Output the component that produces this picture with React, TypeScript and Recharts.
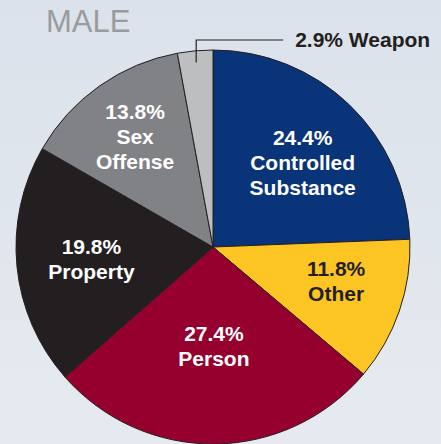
import { PieChart, Pie, Cell } from 'recharts';

const categories = ['Controlled Substance', 'Other', 'Person', 'Property', 'Sex Offense', 'Weapon'];
const shares = [24.4, 11.8, 27.4, 19.8, 13.8, 2.9];
const sliceColors = ['#0a347a', '#fdc524', '#96002e', '#231f20', '#808285', '#bcbec0'];
const labelColors = ['#ffffff', '#231f20', '#ffffff', '#ffffff', '#ffffff', '#231f20'];
// how far from the centre each label sits, as a share of the radius
const labelRadius = [0.62, 0.65, 0.505, 0.62, 0.685, 0.94];
// small hand nudges [dx, dy] so the labels sit where the original put them
const labelNudge = [[5, 4], [2, -7], [0, 0], [0, 0], [0, 0], [0, 0]];

const chartData = categories.map((name, i) => ({ name, value: shares[i] }));

const RAD = Math.PI / 180;
const FONT = '"Liberation Sans", Arial, Helvetica, sans-serif';

function renderLabel(props: any) {
  const { cx, cy, midAngle, outerRadius, index, name, value } = props;
  const r = outerRadius * labelRadius[index];
  const x = cx + r * Math.cos(-midAngle * RAD) + labelNudge[index][0];
  const y = cy + r * Math.sin(-midAngle * RAD) + labelNudge[index][1];
  const pct = `${Number(value).toFixed(1)}%`;

  if (index === categories.length - 1) {
    // small slice: leader line out to the right
    const topY = cy - outerRadius - 10;
    const endX = x + 87;
    return (
      <g>
        <polyline
          points={`${x},${y} ${x},${topY} ${endX},${topY}`}
          fill="none"
          stroke="#231f20"
          strokeWidth={1.2}
        />
        <text
          x={endX + 12}
          y={topY + 7}
          fill={labelColors[index]}
          fontSize={21}
          fontWeight="bold"
          fontFamily={FONT}
        >
          {`${pct} ${name}`}
        </text>
      </g>
    );
  }

  const lines = [pct, ...String(name).split(' ')];
  const lineH = 25;
  const first = y - ((lines.length - 1) * lineH) / 2 + 7;
  return (
    <text
      textAnchor="middle"
      fill={labelColors[index]}
      fontSize={21}
      fontWeight="bold"
      fontFamily={FONT}
    >
      {lines.map((line, i) => (
        <tspan key={i} x={x} y={first + i * lineH}>
          {line}
        </tspan>
      ))}
    </text>
  );
}

export default function App() {
  return (
    <div
      style={{
        position: 'fixed',
        left: 0,
        top: 0,
        width: 441,
        height: 444,
        overflow: 'hidden',
        background: 'linear-gradient(#dbe2eb, #e6eaf0)',
      }}
    >
      <div
        style={{
          position: 'absolute',
          left: 46,
          top: 4,
          fontFamily: FONT,
          fontSize: 31,
          color: '#9a9b9d',
          lineHeight: '36px',
        }}
      >
        MALE
      </div>
      <PieChart width={441} height={444} margin={{ top: 0, right: 0, bottom: 0, left: 0 }}>
        <Pie
          data={chartData}
          dataKey="value"
          nameKey="name"
          cx={213}
          cy={247}
          outerRadius={197}
          startAngle={90}
          endAngle={-270}
          stroke="#231f20"
          strokeWidth={1}
          label={renderLabel}
          labelLine={false}
          isAnimationActive={false}
        >
          {chartData.map((d, i) => (
            <Cell key={d.name} fill={sliceColors[i]} />
          ))}
        </Pie>
      </PieChart>
    </div>
  );
}
